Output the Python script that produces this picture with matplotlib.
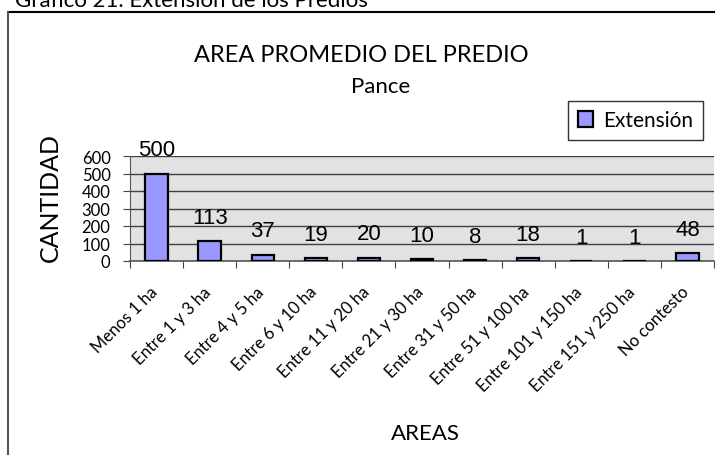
import matplotlib.pyplot as plt
from matplotlib.lines import Line2D
from matplotlib.patches import Patch

# Data
categorias = ["Menos 1 ha", "Entre 1 y 3 ha", "Entre 4 y 5 ha", "Entre 6 y 10 ha",
              "Entre 11 y 20 ha", "Entre 21 y 30 ha", "Entre 31 y 50 ha",
              "Entre 51 y 100 ha", "Entre 101 y 150 ha", "Entre 151 y 250 ha",
              "No contesto"]
cantidad = [500, 113, 37, 19, 20, 10, 8, 18, 1, 1, 48]
yticks = [0, 100, 200, 300, 400, 500, 600]

font_main = ["Lato", "DejaVu Sans"]
font_vals = ["Liberation Sans", "DejaVu Sans"]
bar_color = "#9999ff"

fig = plt.figure(figsize=(7.15, 4.56), dpi=100)
W, H = 715, 456

def fx(px):
    return px / W

def fy(py):
    return 1 - py / H

ax = fig.add_axes([fx(130), fy(262), fx(714) - fx(130), fy(157) - fy(262)])
ax.set_facecolor("#e2e2e2")

x = list(range(len(categorias)))
ax.bar(x, cantidad, width=0.42, color=bar_color, edgecolor="black", linewidth=1.6, zorder=3)

for xi, v in zip(x, cantidad):
    ax.annotate(str(v), (xi, v), xytext=(0, 13), textcoords="offset points",
                ha="center", va="baseline", fontsize=16, family=font_vals, zorder=4)

ax.set_xlim(-0.5, len(categorias) - 0.5)
ax.set_ylim(0, 600)
ax.set_yticks(yticks)
ax.set_yticklabels([str(t) for t in yticks], fontsize=12, family=font_main)
ax.yaxis.grid(True, color="#404040", linewidth=1.0, zorder=1)
ax.set_axisbelow(True)

# category boundary ticks, labels at centres
ax.set_xticks([i - 0.5 for i in range(len(categorias) + 1)])
ax.set_xticklabels([])
ax.tick_params(axis="x", direction="out", length=5, color="#444444")
ax.tick_params(axis="y", direction="out", length=5, color="#444444", pad=9)
for xi, lab in zip(x, categorias):
    ax.annotate(lab, (xi, 0), xytext=(-1, -20), textcoords="offset points",
                ha="right", va="center", rotation=45, rotation_mode="anchor",
                fontsize=12, family=font_main, annotation_clip=False)

for s in ["top", "right"]:
    ax.spines[s].set_visible(False)
ax.spines["left"].set_color("#555555")
ax.spines["bottom"].set_color("#555555")
ax.spines["bottom"].set_linewidth(1.2)

# titles and axis labels
fig.text(fx(15), fy(7), "Gráfico 21. Extensión de los Predios", fontsize=16,
         family=font_main, ha="left", va="baseline")
fig.text(fx(361), fy(62), "AREA PROMEDIO DEL PREDIO", fontsize=17,
         family=font_main, ha="center", va="baseline")
fig.text(fx(381), fy(93), "Pance", fontsize=16, family=font_main,
         ha="center", va="baseline")
fig.text(fx(50), fy(198), "CANTIDAD", fontsize=18, family=font_main,
         rotation=90, ha="center", va="center")
fig.text(fx(425), fy(434), "AREAS", fontsize=16, family=font_main,
         ha="center", va="center")

# legend
handle = Patch(facecolor=bar_color, edgecolor="black", linewidth=1.6)
leg = fig.legend([handle], ["Extensión"], loc="upper right",
                 bbox_to_anchor=(fx(703), fy(102)), frameon=True, fancybox=False,
                 prop={"family": font_main, "size": 15}, handlelength=0.75,
                 handleheight=0.75, handletextpad=0.5, borderpad=0.45,
                 borderaxespad=0)
leg.get_frame().set_edgecolor("black")
leg.get_frame().set_linewidth(1.0)

# outer frame (top and left edges visible)
fig.add_artist(Line2D([fx(8), fx(715)], [fy(13), fy(13)], color="black", linewidth=1.5))
fig.add_artist(Line2D([fx(8), fx(8)], [fy(13), fy(456)], color="#555555", linewidth=1.5))

fig.savefig("out.png", dpi=100)
